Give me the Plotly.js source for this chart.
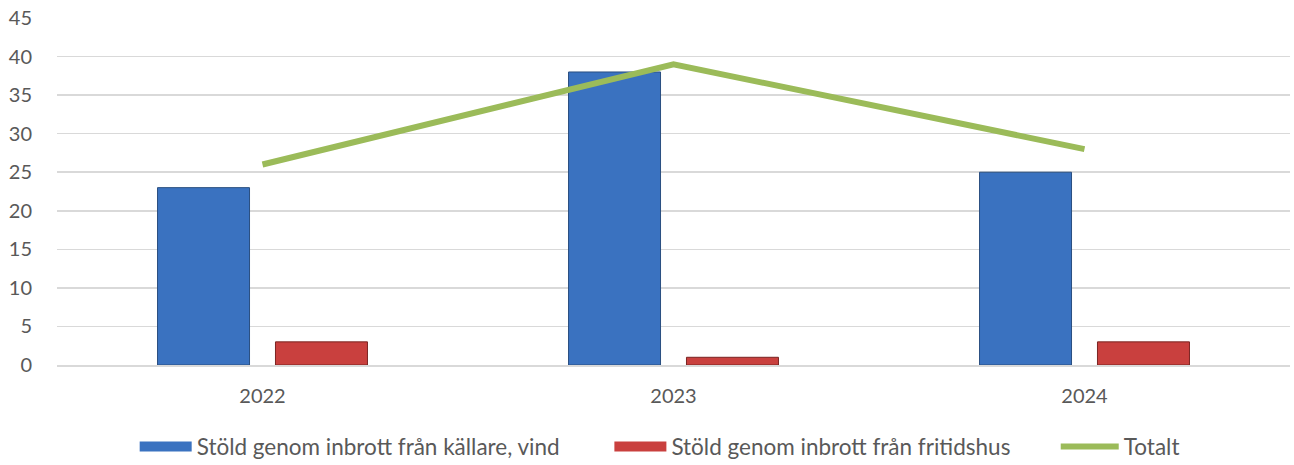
<!DOCTYPE html>
<html>
<head>
<meta charset="utf-8">
<script src="https://cdn.plot.ly/plotly-3.0.1.min.js"></script>
<style>html,body{margin:0;padding:0;background:#fff}#chart{width:1294px;height:465px}</style>
</head>
<body>
<div id="chart"></div>
<script>
const years = ["2022", "2023", "2024"];
const kallareVind = [23, 38, 25];
const fritidshus = [3, 1, 3];
const totalt = [26, 39, 28];
const yTicks = [0, 5, 10, 15, 20, 25, 30, 35, 40, 45];
const nameKallare = "Stöld genom inbrott från källare, vind";
const nameFritid = "Stöld genom inbrott från fritidshus";
const nameTotalt = "Totalt";

const font = "Lato, 'Open Sans', sans-serif";
const gray = "#595959";
const blue = "#3A72C0", red = "#C9403E", green = "#9BBB59";

const traces = [
  {
    type: "bar", x: years, y: kallareVind, name: nameKallare,
    legendgroup: "a", showlegend: false,
    marker: {color: blue, line: {color: "#2A4F80", width: 1}},
    hoverinfo: "y"
  },
  {
    type: "bar", x: years, y: fritidshus, name: nameFritid,
    legendgroup: "b", showlegend: false,
    marker: {color: red, line: {color: "#7A2422", width: 1}},
    hoverinfo: "y"
  },
  {
    type: "scatter", mode: "lines", x: years, y: totalt, name: nameTotalt,
    legendgroup: "c", showlegend: false,
    line: {color: green, width: 6},
    hoverinfo: "y"
  },
  // legend-only entries (no data) to mimic wide rectangular legend keys
  {type: "scatter", mode: "lines", x: [null], y: [null], name: nameKallare,
   legendgroup: "a", legend: "legend", line: {color: blue, width: 14}},
  {type: "scatter", mode: "lines", x: [null], y: [null], name: nameFritid,
   legendgroup: "b", legend: "legend2", line: {color: red, width: 14}},
  {type: "scatter", mode: "lines", x: [null], y: [null], name: nameTotalt,
   legendgroup: "c", legend: "legend3", line: {color: green, width: 6}}
];

function legendAt(x, iw) {
  return {
    orientation: "h",
    xref: "paper", x: x, xanchor: "left",
    yref: "container", y: 0.039, yanchor: "middle",
    font: {family: font, size: 22.5, color: gray},
    itemwidth: iw,
    bgcolor: "rgba(0,0,0,0)"
  };
}

const layout = {
  width: 1294, height: 465,
  margin: {l: 57, r: 4, t: 18, b: 100},
  paper_bgcolor: "#fff", plot_bgcolor: "#fff",
  barmode: "group",
  bargap: 0.426,
  bargroupgap: 0.22,
  font: {family: font, color: gray, size: 20},
  xaxis: {
    type: "category",
    showgrid: false, zeroline: false,
    showline: true, linecolor: "#D9D9D9", linewidth: 1.5,
    ticks: "", ticklabelstandoff: 12,
    tickfont: {family: font, size: 20, color: gray}
  },
  yaxis: {
    range: [0, 45], tickvals: yTicks,
    showgrid: true, gridcolor: "#D9D9D9", gridwidth: 1.5,
    zeroline: false, showline: false, ticks: "",
    ticklabelstandoff: 24,
    tickfont: {family: font, size: 20, color: gray}
  },
  legend: legendAt(0.063, 52),
  legend2: legendAt(0.448, 52),
  legend3: legendAt(0.810, 58),
  showlegend: true
};

Plotly.newPlot("chart", traces, layout, {displayModeBar: false, staticPlot: true});
</script>
</body>
</html>
